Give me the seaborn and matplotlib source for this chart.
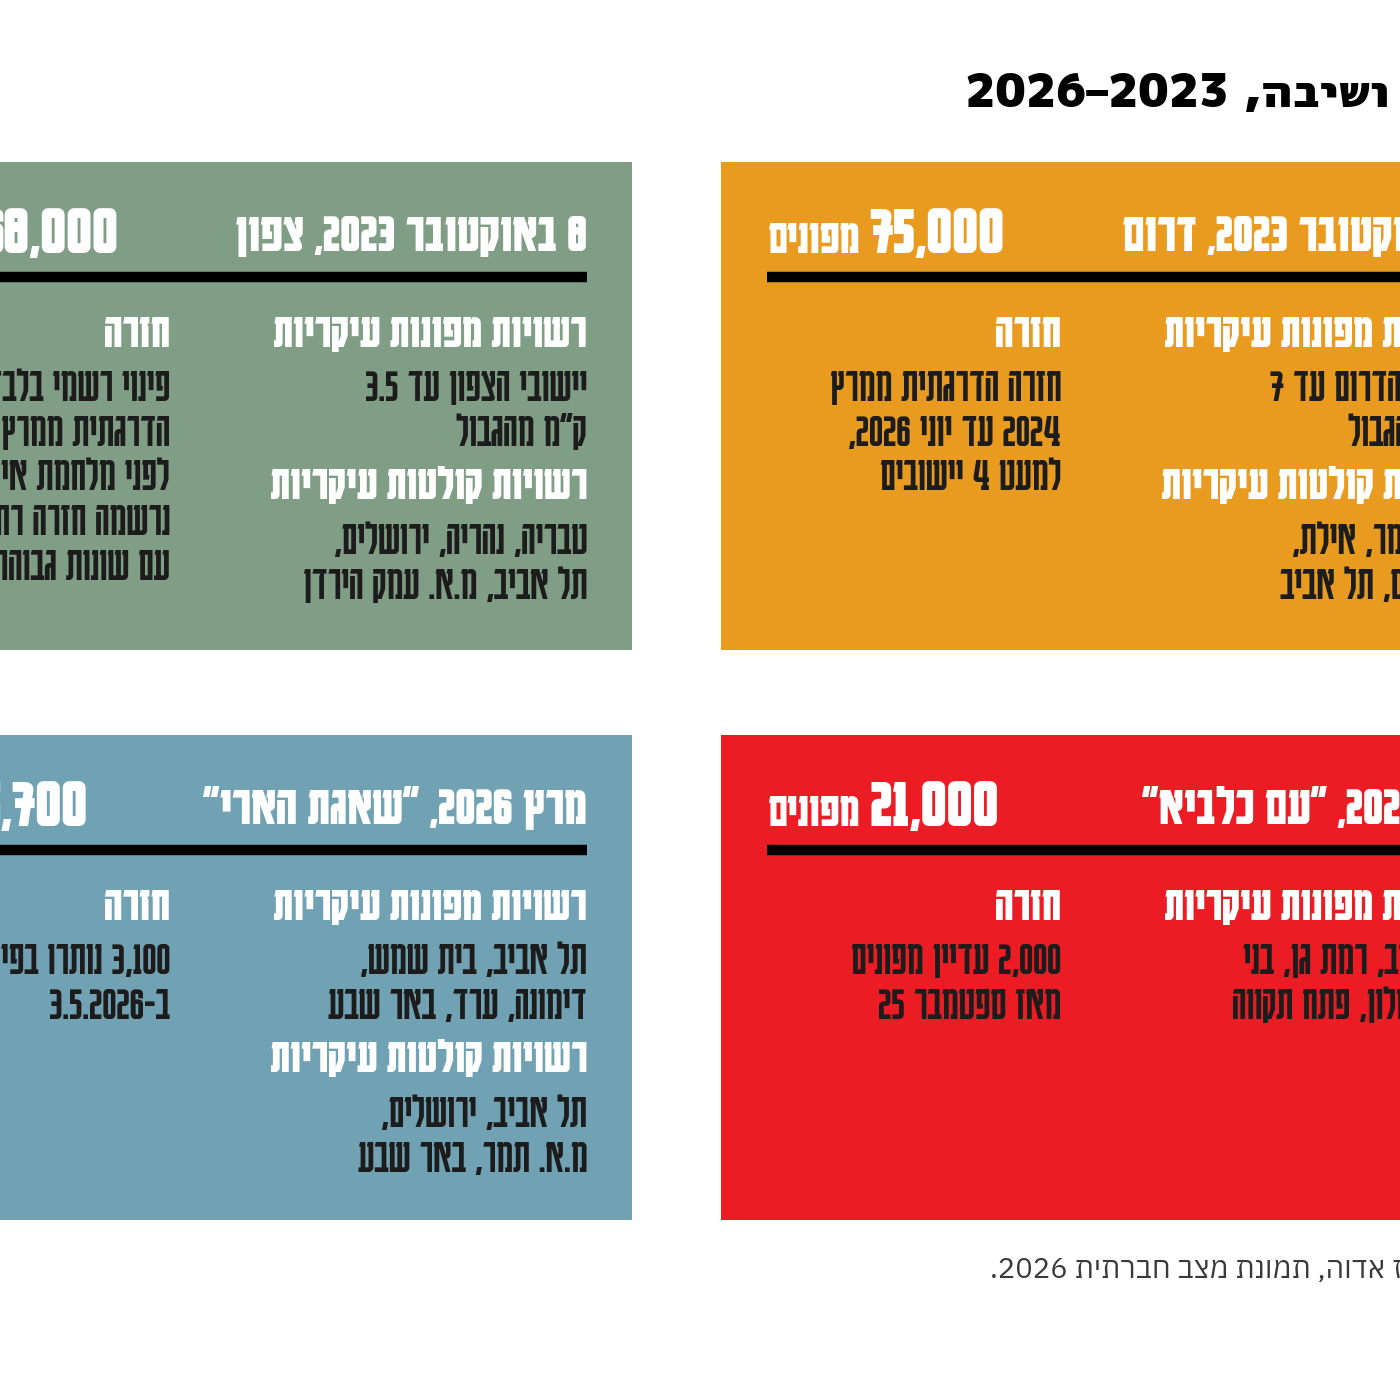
import re
import matplotlib
matplotlib.use("Agg")
import matplotlib.pyplot as plt
import seaborn as sns

# ---- data (logical Hebrew order) ----
title_text = "מפת פינוי ושיבה, 2023–2026"
source_text = "מקור: מרכז אדוה, תמונת מצב חברתית 2026."

# panels: top-right, top-left, bottom-right, bottom-left
panel_colors = ["#E89B1E", "#809D86", "#EC1C24", "#70A2B3"]
panel_headers = ["7 באוקטובר 2023, דרום", "8 באוקטובר 2023, צפון",
                 'יוני 2025, "עם כלביא"', 'מרץ 2026, "שאגת הארי"']
panel_numbers = ["75,000", "68,000", "21,000", "5,700"]
number_label = "מפונים"

evac_heading = "רשויות מפונות עיקריות"
host_heading = "רשויות קולטות עיקריות"
return_heading = "חזרה"

evac_lines = [
    ["יישובי הדרום עד 7", 'ק"מ מהגבול'],
    ["יישובי הצפון עד 3.5", 'ק"מ מהגבול'],
    ["תל אביב, רמת גן, בני", "ברק, חולון, פתח תקווה"],
    ["תל אביב, בית שמש,", "דימונה, ערד, באר שבע"],
]
host_lines = [
    ["מ.א. תמר, אילת,", "ירושלים, תל אביב"],
    ["טבריה, נהריה, ירושלים,", "תל אביב, מ.א. עמק הירדן"],
    [],
    ["תל אביב, ירושלים,", "מ.א. תמר, באר שבע"],
]
return_lines = [
    ["חזרה הדרגתית ממרץ", "2024 עד יוני 2026,", "למעט 4 יישובים"],
    ["פינוי רשמי בלבד, חזרה", "הדרגתית ממרץ 2025", "לפני מלחמת איראן",
     "נרשמה חזרה רחבה", "עם שונות גבוהה"],
    ["2,000 עדיין מפונים", "מאז ספטמבר 25"],
    ["3,100 נותרו בפינוי", "ב-3.5.2026"],
]


def vis(s):
    # matplotlib has no bidi: reverse the Hebrew, keep number runs left-to-right
    parts = re.findall(r"\d+(?:[.,:]\d+)*|.", s)
    return "".join(parts[::-1])


sns.set_theme(style="white")
plt.rcParams["font.family"] = ["Karantina", "DejaVu Sans"]

W, H = 1400, 1400
fig = plt.figure(figsize=(14, 14), dpi=100)
fig.patch.set_facecolor("white")

# panel boxes in pixels (left, top, width, height)
boxes = [(721, 162, 802, 488), (-170, 162, 802, 488),
         (721, 735, 802, 485), (-170, 735, 802, 485)]

body_c = "#1c1c1c"
pad_l, pad_r, col_r = 46, 757, 340
body_fs, head_fs = 36, 36

for i, (l, t, w, h) in enumerate(boxes):
    ax = fig.add_axes([l / W, 1 - (t + h) / H, w / W, h / H])
    ax.set_facecolor(panel_colors[i])
    ax.set_xlim(0, w)
    ax.set_ylim(h, 0)
    ax.set_xticks([])
    ax.set_yticks([])
    sns.despine(ax=ax, left=True, bottom=True)

    # header row
    ax.text(pad_r, 72, vis(panel_headers[i]), color="white", fontsize=41,
            weight="bold", ha="right", va="center")
    lab = ax.text(pad_l, 77, vis(number_label), color="white", fontsize=36,
                  weight="bold", ha="left", va="center")
    fig.canvas.draw()
    bb = lab.get_window_extent().transformed(ax.transData.inverted())
    ax.text(bb.x1 + 10, 70, panel_numbers[i], color="white", fontsize=53,
            weight="bold", ha="left", va="center")
    ax.hlines(115, pad_l, pad_r, color="black", lw=7.5)

    # right column: evacuated / hosting authorities
    ax.text(pad_r, 171, vis(evac_heading), color="white", fontsize=head_fs,
            weight="bold", ha="right", va="center")
    y = 225
    for s in evac_lines[i]:
        ax.text(pad_r, y, vis(s), color=body_c, fontsize=body_fs,
                ha="right", va="center")
        y += 45
    if host_lines[i]:
        y = y - 45 + 53
        ax.text(pad_r, y, vis(host_heading), color="white", fontsize=head_fs,
                weight="bold", ha="right", va="center")
        y += 55
        for s in host_lines[i]:
            ax.text(pad_r, y, vis(s), color=body_c, fontsize=body_fs,
                    ha="right", va="center")
            y += 45

    # left column: return
    ax.text(col_r, 171, vis(return_heading), color="white", fontsize=head_fs,
            weight="bold", ha="right", va="center")
    y = 225
    for s in return_lines[i]:
        ax.text(col_r, y, vis(s), color=body_c, fontsize=body_fs,
                ha="right", va="center")
        y += 44.7

fig.text(965 / W, 1 - 95 / H, vis(title_text), color="black", fontsize=33,
         family=["M PLUS 1p", "DejaVu Sans"], weight=900, ha="left", va="center")
fig.text(990 / W, 1 - 1270 / H, vis(source_text), color="#3a3a3a", fontsize=21,
         family=["IBM Plex Sans Hebrew", "DejaVu Sans"], ha="left", va="center")

fig.savefig("out.png", dpi=100)
